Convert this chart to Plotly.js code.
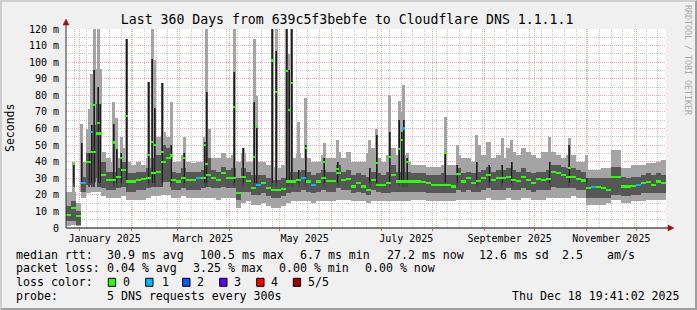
<!DOCTYPE html>
<html><head><meta charset="utf-8">
<script src="https://cdn.plot.ly/plotly-3.0.1.min.js"></script>
<style>
html,body{margin:0;padding:0;background:#f0f0f0;}
#wrap{position:relative;width:697px;height:310px;overflow:hidden;}
#chart{width:697px;height:310px;}
#frame{position:absolute;left:0;top:0;width:697px;height:310px;box-sizing:border-box;border-style:solid;border-width:2px;border-color:#cfcfcf #9e9e9e #9e9e9e #cfcfcf;pointer-events:none;}
</style></head>
<body><div id="wrap"><div id="chart"></div><div id="frame"></div></div>
<script>
// ---------- DATA ----------
const rangeStart = '2024-12-23 19:41';
const rangeEnd   = '2025-12-18 19:41';
const binStartUTC = Date.UTC(2024, 11, 23, 19, 41);
const binDays = 3;

// per 3-day bin: median rtt (ms), dark smoke low/high, light smoke low/high, loss count
const baseMed = [8,12,7,27,40,46,57,32,29,29,31,35,28,28,29,29.5,30,33,34,40,42,29,28,30,29,29,30,30,32,30,
  29,33,30,30,21,31,28.5,24,26,27,24,23,23,23.5,28,28,29,30,28,26,28,30,28.5,28.5,33,29,29.5,25,27,25,
  23,29,26,26,27,32,28,28,28,28,28,27.5,27,26,26,26,26,25,32.6,28,30,27,28.5,30,32,29,30,30,31,29,
  28.5,31,29,27,29.5,29,29.5,34,33,32,31,31,29.8,28.6,24,24.5,24.5,24,23,30.6,31,25,25,25.5,26,27,27.5,26,28,27];
const baseDarkLo = [4,4,2,22,26,28,30,24,23,23,24,25,22,22,23,23,24,25,25,28,28,23,23,24,23,23,23,24,25,24,
  24,25,24,24,17,22,22,20,20,21,19,18,18,19,21,22,22,23,22,21,22,23,22,22,24,23,23,21,22,21,
  20,23,22,21,21,22,22,22,22,22,22,22,21,21,21,21,21,21,23,22,23,22,22,23,24,23,23,23,24,23,
  23,24,23,22,23,23,23,25,24,24,24,24,23,23,18,18,18,18,18,20,20,19,19,20,20,21,21,21,21,21];
const baseDarkHi = [13,16,10,31,45,62,75,40,34,34,36,40,33,33,34,34,36,42,44,50,48,34,33,36,34,34,34,35,42,35,
  34,37,35,36,30,36,34,32,32,32,30,29,29,30,34,34,34,35,34,32,33,35,34,34,38,34,35,32,33,32,
  31,34,33,32,34,38,34,34,34,33,33,33,32,32,32,33,32,32,36,33,34,33,34,35,37,34,35,35,36,35,
  34,36,34,33,34,34,35,38,38,37,36,36,35,34,30,30,30,30,30,37,37,31,30,31,31,32,33,32,33,32];
const baseLightLo = [1,2,1,18,21,22,22,19,18,18,18,19,17,17,17,17,18,19,19,20,20,18,18,19,18,18,18,18,18,18,
  17,18,18,18,12,15,16,14,14,15,13,12,12,13,15,16,16,16,16,15,16,16,16,16,17,17,17,16,16,16,
  15,16,16,16,16,16,16,16,16,17,17,17,16,16,16,16,16,16,17,17,17,17,17,17,18,17,17,17,18,17,
  17,18,18,17,17,17,18,18,18,18,18,19,18,18,14,14,14,14,15,17,17,15,15,16,16,16,17,17,17,17];
const baseLightHi = [22,22,15,40,60,93,96,46,42,40,42,48,40,38,40,38,42,50,55,58,55,40,40,44,40,39,40,40,60,42,
  42,45,42,44,40,45,40,40,40,40,38,37,36,38,40,42,45,42,42,40,40,44,42,42,46,42,46,40,40,40,
  45,48,42,40,44,48,44,44,40,38,38,38,37,37,37,38,38,38,44,42,42,40,50,44,52,42,44,42,48,46,
  44,48,46,44,42,46,46,46,44,42,44,44,40,40,35,35,35,36,36,47,47,36,36,38,38,38,39,39,40,41];
const baseLoss = [0,0,0,1,0,0,0,0,0,0,0,0,0,0,0,0,0,0,0,0,0,0,0,0,0,0,1,0,0,0,
  0,0,0,0,0,0,0,0,1,0,0,0,0,0,0,0,0,1,0,1,0,0,0,0,0,0,0,0,0,0,
  0,0,0,0,0,0,0,0,0,0,0,0,0,0,0,0,0,0,0,0,0,0,0,0,0,0,0,0,0,0,
  0,0,0,0,0,0,0,0,0,0,0,0,0,0,0,1,0,0,0,0,0,0,0,0,1,0,0,0,0,0];

// short-lived spikes
const spikeDates = ['2024-12-28 08:00','2025-01-02 10:00','2025-01-06 15:00','2025-01-08 10:00','2025-01-09 22:00',
  '2025-01-12 01:00','2025-01-13 12:00','2025-01-21 08:00','2025-01-23 03:00','2025-01-25 20:00',
  '2025-01-29 10:00','2025-02-11 08:00','2025-02-13 17:00','2025-02-15 05:00','2025-02-19 17:00',
  '2025-02-24 20:00','2025-03-04 22:00','2025-03-17 01:00','2025-03-18 10:00','2025-04-03 22:00',
  '2025-04-09 05:00','2025-04-15 15:00','2025-04-17 10:00','2025-04-26 17:00','2025-04-28 20:00',
  '2025-05-05 10:00','2025-05-06 22:00','2025-05-08 10:00','2025-05-12 08:00','2025-05-16 13:00',
  '2025-05-27 15:00','2025-06-05 00:00','2025-06-24 05:00','2025-06-28 10:00','2025-07-06 05:00',
  '2025-07-11 22:00','2025-07-13 03:00','2025-07-14 08:00','2025-07-16 15:00','2025-08-08 12:00',
  '2025-08-15 15:00','2025-08-27 10:00','2025-09-03 15:00','2025-09-11 15:00','2025-09-17 03:00',
  '2025-10-10 05:00','2025-10-21 15:00','2025-11-01 10:00'];
const spikeLight = [40,63,72,93,120,120,96,76,66.5,55, 114,88,120,101.6,87.5,76,55,55,120,120,
  48,114,79.5,120,120,120,105,120,64,78.5, 51,53,53,60,80.5,76.5,70,86,45,67, 50,56,52,54,53,55,54,44];
const spikeDark = [39,51,45,62,95,85,75,63,49,45, 114,88,102,72.5,87.5,50,45,52,82,94,
  48,76,61,120,107,120,95,120,35,50, 42,40,36,56,58,65,58,65,42,45, 38,40,38,38,40,40,50,30];
const spikeMed = [38.6,null,40,58,74,63.5,57,51.6,48,42, 67.7,44,52,50,46,43.7,42,50,38.6,73,
  null,43,61,101,82,94.6,71.4,87.5,null,48, 40,35.6,null,39,43,47.7,53,60,40,45,
  null,null,null,null,null,null,36,null];
const spikeLoss = [0,0,0,1,0,0,0,0,0,0, 0,0,0,0,0,0,0,0,0,0, 0,0,0,0,0,0,0,0,0,0,
  0,0,0,0,0,0,0,1,0,0, 0,0,0,0,0,0,0,0];

const monthLabelDates = ['2025-01-16','2025-03-16','2025-05-16','2025-07-16','2025-09-16','2025-11-16'];
const monthLabels = ['January 2025','March 2025','May 2025','July 2025','September 2025','November 2025'];
const yTickVals = [0,10,20,30,40,50,60,70,80,90,100,110,120];
const yTickText = ['0','10 m','20 m','30 m','40 m','50 m','60 m','70 m','80 m','90 m','100 m','110 m','120 m'];

const lossColors = ['#26ff00','#00b8ff','#0059ff','#5e00ff','#ff0000','#a00000'];
const lossNames = ['0','1','2','3','4','5/5'];

// ---------- BUILD ----------
const DAY = 864e5;
function iso(ms){ return new Date(ms).toISOString().slice(0,16).replace('T',' '); }
const binX = baseMed.map((_, k) => iso(binStartUTC + (binDays*k + binDays/2)*DAY));

const LIGHT = '#a4a4a4', DARK = '#575757', CORE = '#1c1c1c';
const SP_LB = 22, SP_DB = 25, SP_CB = 27;

const traces = [];
traces.push({type:'bar', x:binX, base:baseLightLo, y:baseLightHi.map((v,i)=>v-baseLightLo[i]),
  width:binDays*DAY, marker:{color:LIGHT, line:{width:0}}, hoverinfo:'skip'});
traces.push({type:'bar', x:spikeDates, base:SP_LB, y:spikeLight.map(v=>v-SP_LB),
  width:1.8*DAY, marker:{color:LIGHT, line:{width:0}}, hoverinfo:'skip'});
traces.push({type:'bar', x:binX, base:baseDarkLo, y:baseDarkHi.map((v,i)=>v-baseDarkLo[i]),
  width:binDays*DAY, marker:{color:DARK, line:{width:0}}, hoverinfo:'skip'});
traces.push({type:'bar', x:spikeDates, base:SP_DB, y:spikeDark.map(v=>v-SP_DB),
  width:1.2*DAY, marker:{color:'#4a4a4a', line:{width:0}}, hoverinfo:'skip'});
traces.push({type:'bar', x:spikeDates, base:SP_CB, y:spikeDark.map(v=>v-SP_CB),
  width:0.6*DAY, marker:{color:CORE, line:{width:0}}, hoverinfo:'skip'});
traces.push({type:'bar', x:binX, base:baseMed.map(v=>v-0.65), y:baseMed.map(()=>1.3),
  width:binDays*DAY, marker:{color:baseLoss.map(l=>lossColors[l]), line:{width:0}}, hoverinfo:'skip'});
const smX=[], smY=[], smC=[];
spikeMed.forEach((v,i)=>{ if(v!==null){ smX.push(spikeDates[i]); smY.push(v); smC.push(lossColors[spikeLoss[i]]); }});
traces.push({type:'bar', x:smX, base:smY.map(v=>v-0.65), y:smY.map(()=>1.3),
  width:1.8*DAY, marker:{color:smC, line:{width:0}}, hoverinfo:'skip'});
// invisible trace for label axis
traces.push({type:'scatter', x:[rangeStart], y:[null], xaxis:'x2', mode:'markers', hoverinfo:'skip', showlegend:false});

// ---------- LAYOUT ----------
const L = 66, T = 29, W = 600, H = 199;
const px = x => (x - L) / W;
const py = y => (T + H - y) / H;
const MONO = 'DejaVu Sans Mono, monospace';
const DOT = '1px,1px';
const MGRID = '#f0a8a8', GRID = '#c8c8c8';

const ann = [];
function txt(s, x, y, opts){
  ann.push(Object.assign({text:s, x:px(x), y:py(y), xref:'paper', yref:'paper', showarrow:false,
    xanchor:'left', yanchor:'middle', borderpad:0, borderwidth:0,
    font:{family:MONO, size:11.6, color:'#000'}}, opts||{}));
}
txt('Seconds', 10, 128, {xanchor:'center', textangle:-90, font:{family:MONO, size:11.5, color:'#000'}});
txt('RRDTOOL / TOBI OETIKER', 688, 60, {xanchor:'center', textangle:90, font:{family:MONO, size:8.3, color:'#a8a8a8'}});
// legend rows
const r1 = 254.7, r2 = 268.3, r3 = 282.3, r4 = 296.3;
txt('median rtt:', 16, r1); txt('30.9 ms avg', 107.3, r1); txt('100.5 ms max', 200, r1);
txt('6.7 ms min', 300, r1); txt('27.2 ms now', 386.5, r1); txt('12.6 ms sd', 479.3, r1);
txt('2.5', 562.3, r1); txt('am/s', 606.7, r1);
txt('packet loss:', 16, r2); txt('0.04 % avg', 107.3, r2); txt('3.25 % max', 193, r2);
txt('0.00 % min', 279.3, r2); txt('0.00 % now', 365, r2);
txt('loss color:', 16, r3);
const boxX = [108.3, 145.7, 182.7, 219.7, 256.7, 293.3];
const boxLabelX = [122.7, 161.7, 197.3, 234.3, 270.7, 308.3];
const shapes = [];
boxX.forEach((bx,i)=>{
  shapes.push({type:'rect', xref:'paper', yref:'paper', x0:px(bx), x1:px(bx+7.3), y0:py(286.3), y1:py(278.3),
    fillcolor:lossColors[i], line:{color:'#000', width:1}});
  txt(lossNames[i], boxLabelX[i], r3);
});
txt('probe:', 16, r4); txt('5 DNS requests every 300s', 107.3, r4);
txt('Thu Dec 18 19:41:02 2025', 680, r4, {xanchor:'right'});

// axis lines and arrows
const AX = '#333333', ARR = '#a01010';
shapes.push({type:'line', xref:'paper', yref:'paper', x0:px(66), x1:px(671), y0:py(228), y1:py(228), line:{color:'#000', width:1}});
shapes.push({type:'line', xref:'paper', yref:'paper', x0:px(66), x1:px(66), y0:py(228), y1:py(23), line:{color:AX, width:1}});
shapes.push({type:'path', xref:'paper', yref:'paper', fillcolor:ARR, line:{color:ARR, width:0.5},
  path:`M ${px(668)} ${py(225)} L ${px(674)} ${py(228)} L ${px(668)} ${py(231)} Z`});
shapes.push({type:'path', xref:'paper', yref:'paper', fillcolor:ARR, line:{color:ARR, width:0.5},
  path:`M ${px(63)} ${py(25)} L ${px(66)} ${py(19)} L ${px(69)} ${py(25)} Z`});

const layout = {
  width:697, height:310,
  margin:{l:L, r:697-L-W, t:T, b:310-T-H, pad:0},
  paper_bgcolor:'#f0f0f0', plot_bgcolor:'#ffffff',
  showlegend:false, barmode:'overlay', bargap:0,
  title:{text:'Last 360 Days from 639c5f3bebfe to Cloudflare DNS 1.1.1.1',
    font:{family:MONO, size:13.2, color:'#000'}, xref:'container', x:0.498, xanchor:'center',
    yref:'container', y:1-19/310, yanchor:'middle'},
  xaxis:{type:'date', range:[rangeStart, rangeEnd], showticklabels:false,
    tick0:'2025-01-01', dtick:'M1', ticks:'outside', ticklen:2, tickcolor:'#e06060',
    showgrid:true, gridcolor:MGRID, griddash:DOT, gridwidth:1,
    minor:{tick0:'2024-12-29', dtick:7*DAY, showgrid:true, gridcolor:GRID, griddash:DOT, ticks:''},
    showline:false, zeroline:false, fixedrange:true},
  xaxis2:{type:'date', overlaying:'x', anchor:'y', side:'bottom', range:[rangeStart, rangeEnd],
    tickmode:'array', tickvals:monthLabelDates, ticktext:monthLabels, showgrid:false, ticks:'',
    showline:false, zeroline:false, ticklabelstandoff:3,
    tickfont:{family:MONO, size:10, color:'#000'}},
  yaxis:{range:[0,120], tickmode:'array', tickvals:yTickVals, ticktext:yTickText,
    showgrid:true, gridcolor:MGRID, griddash:DOT, gridwidth:1,
    minor:{tickmode:'linear', tick0:0, dtick:5, showgrid:true, gridcolor:GRID, griddash:DOT, ticks:''},
    zeroline:false, showline:false, ticks:'', ticklabelstandoff:6,
    tickfont:{family:MONO, size:10, color:'#000'}, fixedrange:true},
  annotations:ann, shapes:shapes
};

Plotly.newPlot('chart', traces, layout, {staticPlot:true, displayModeBar:false});
</script>
</body></html>
